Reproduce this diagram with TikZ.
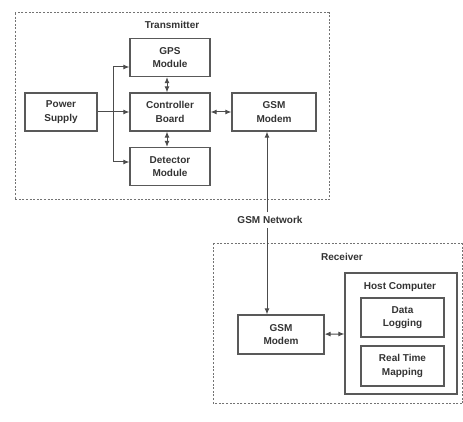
\documentclass[tikz,border=0pt]{standalone}
\usepackage{fontspec}
\setmainfont{Liberation Sans}
\usetikzlibrary{arrows.meta}
\begin{document}
\begin{tikzpicture}[x=1pt,y=-1pt,
  blk/.style={draw=black!65, line width=1.2pt, minimum width=#1, minimum height=38pt, inner sep=0pt, align=center, font=\fontsize{10}{13.5}\selectfont\bfseries, text=black!80},
  blk/.default=80pt,
  grp/.style={draw=black!55, line width=1pt, dash pattern=on 2pt off 1.6pt},
  lbl/.style={font=\fontsize{10}{13}\selectfont\bfseries, text=black!80, inner sep=1pt},
  ar/.style={draw=black!70, line width=1pt, -{Latex[length=6pt,width=5pt]}},
  dar/.style={draw=black!70, line width=1pt, {Latex[length=6pt,width=5pt]}-{Latex[length=6pt,width=5pt]}}
]
\useasboundingbox (0,0) rectangle (463,422);
% group boxes
\draw[grp] (15,13) rectangle (329,200);
\draw[grp] (213,243) -- (462,243) (462,403) -- (213,403) -- (213,243);
\draw[grp] (462,243) -- (462,403);
\node[lbl] (tx) at (172,25) {Transmitter};
\node[lbl] (rx) at (342,257) {Receiver};
% transmitter blocks
\node[blk] (gps) at (170,57.5) {GPS\\Module};
\node[blk] (ctrl) at (170,112) {Controller\\Board};
\node[blk] (det) at (170,166.5) {Detector\\Module};
\node[blk=72pt] (ps) at (61,112) {Power\\Supply};
\node[blk=84pt] (gsm1) at (274,112) {GSM\\Modem};
% receiver blocks
\node[draw=black!65, line width=1.2pt, minimum width=112pt, minimum height=121pt, inner sep=0pt] (host) at (401,333.5) {};
\node[lbl] (hostl) at (400,287) {Host Computer};
\node[blk=83pt, minimum height=39pt] (dl) at (402.5,317.5) {Data\\Logging};
\node[blk=83pt, minimum height=40pt] (rtm) at (402.5,366) {Real Time\\Mapping};
\node[blk=86pt, minimum height=39pt] (gsm2) at (281,334.5) {GSM\\Modem};
% GSM network
\node[lbl, fill=white, inner sep=4pt] (net) at (270,220) {GSM Network};
% connectors
\coordinate (j) at (113,112);
\draw[ar] (ps) -- (ctrl);
\draw[ar] (j) |- (gps.west |- 0,67);
\draw[ar] (j) |- (det.west |- 0,162);
\draw[dar] (gps.south -| 167,0) -- (ctrl.north -| 167,0);
\draw[dar] (ctrl.south -| 167,0) -- (det.north -| 167,0);
\draw[dar] (ctrl) -- (gsm1);
\draw[ar] (net.north -| 267,0) -- (gsm1.south -| 267,0);
\draw[ar] (net.south -| 267,0) -- (gsm2.north -| 267,0);
\draw[dar] (gsm2) -- (host);
\end{tikzpicture}
\end{document}
